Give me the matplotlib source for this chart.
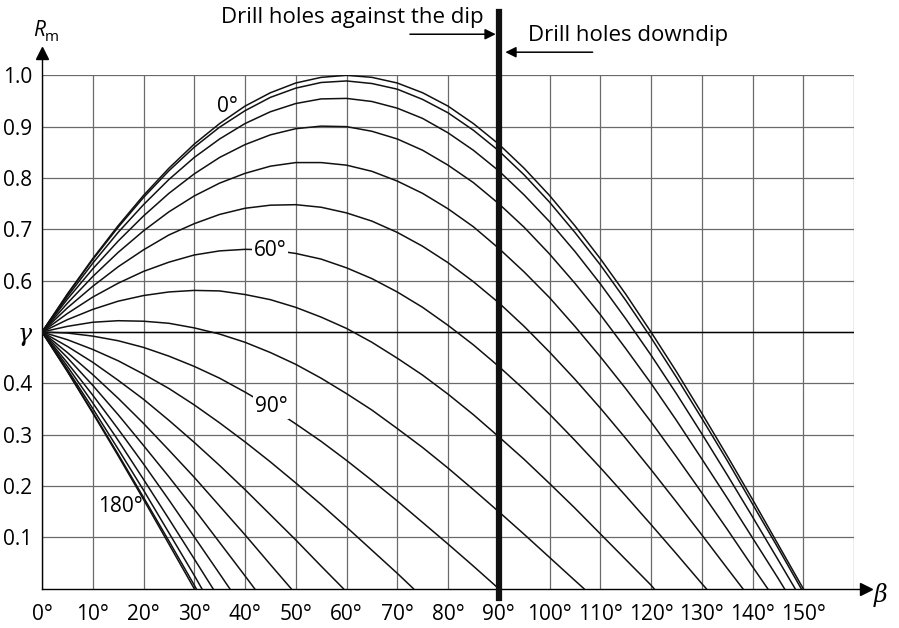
import matplotlib
matplotlib.use("Agg")
import matplotlib.pyplot as plt

# beta grid (degrees) the curve values were read at
beta_grid = list(range(0, 155, 5))

# Rm (one list per curve parameter, from beta = 0 in 5° steps)
rm_a0 = [0.500, 0.574, 0.643, 0.707, 0.766, 0.819, 0.866, 0.906, 0.940, 0.966, 0.985, 0.996, 1.000, 0.996, 0.985,
         0.966, 0.940, 0.906, 0.866, 0.819, 0.766, 0.707, 0.643, 0.574, 0.500, 0.423, 0.342, 0.259, 0.174, 0.087]
rm_a10 = [0.500, 0.573, 0.641, 0.704, 0.762, 0.814, 0.860, 0.899, 0.931, 0.957, 0.975, 0.986, 0.989, 0.984, 0.973,
          0.953, 0.927, 0.893, 0.853, 0.806, 0.753, 0.694, 0.631, 0.562, 0.489, 0.412, 0.332, 0.250, 0.165, 0.080]
rm_a20 = [0.500, 0.569, 0.634, 0.694, 0.748, 0.797, 0.840, 0.876, 0.906, 0.929, 0.945, 0.954, 0.955, 0.949, 0.936,
          0.916, 0.888, 0.854, 0.814, 0.767, 0.715, 0.657, 0.594, 0.526, 0.455, 0.380, 0.302, 0.222, 0.140, 0.057]
rm_a30 = [0.500, 0.564, 0.623, 0.677, 0.726, 0.770, 0.808, 0.840, 0.865, 0.884, 0.896, 0.901, 0.900, 0.891, 0.876,
          0.854, 0.825, 0.791, 0.750, 0.704, 0.652, 0.595, 0.534, 0.468, 0.400, 0.328, 0.253, 0.177, 0.099, 0.021]
rm_a40 = [0.500, 0.556, 0.608, 0.655, 0.697, 0.734, 0.765, 0.790, 0.809, 0.823, 0.830, 0.830, 0.825, 0.813, 0.794,
          0.770, 0.740, 0.705, 0.663, 0.617, 0.567, 0.511, 0.452, 0.390, 0.325, 0.257, 0.187, 0.116, 0.043]
rm_a50 = [0.500, 0.547, 0.589, 0.627, 0.660, 0.689, 0.711, 0.729, 0.741, 0.747, 0.748, 0.743, 0.732, 0.716, 0.694,
          0.667, 0.635, 0.598, 0.557, 0.511, 0.461, 0.408, 0.352, 0.293, 0.232, 0.169, 0.105, 0.040]
rm_a60 = [0.500, 0.536, 0.568, 0.595, 0.618, 0.636, 0.650, 0.658, 0.661, 0.660, 0.653, 0.642, 0.625, 0.604, 0.578,
          0.548, 0.513, 0.475, 0.433, 0.388, 0.340, 0.289, 0.236, 0.181, 0.125, 0.068, 0.010]
rm_a70 = [0.500, 0.524, 0.544, 0.560, 0.571, 0.578, 0.581, 0.580, 0.573, 0.563, 0.548, 0.529, 0.507, 0.480, 0.449,
          0.416, 0.379, 0.339, 0.296, 0.252, 0.205, 0.157, 0.107, 0.057, 0.007]
rm_a80 = [0.500, 0.511, 0.519, 0.522, 0.521, 0.517, 0.508, 0.496, 0.480, 0.460, 0.437, 0.410, 0.380, 0.348, 0.312,
          0.275, 0.235, 0.193, 0.150, 0.106, 0.061, 0.016]
rm_a90 = [0.500, 0.498, 0.492, 0.483, 0.470, 0.453, 0.433, 0.410, 0.383, 0.354, 0.321, 0.287, 0.250, 0.211, 0.171,
          0.129, 0.087, 0.044]
rm_a100 = [0.500, 0.485, 0.466, 0.444, 0.418, 0.390, 0.358, 0.323, 0.286, 0.247, 0.206, 0.164, 0.120, 0.075, 0.030]
rm_a110 = [0.500, 0.472, 0.441, 0.406, 0.369, 0.328, 0.285, 0.240, 0.193, 0.144, 0.095, 0.044]
rm_a120 = [0.500, 0.460, 0.417, 0.371, 0.322, 0.270, 0.217, 0.161, 0.105, 0.047]
rm_a130 = [0.500, 0.450, 0.396, 0.339, 0.279, 0.218, 0.155, 0.090, 0.025]
rm_a140 = [0.500, 0.440, 0.377, 0.311, 0.243, 0.173, 0.101, 0.029]
rm_a150 = [0.500, 0.433, 0.362, 0.289, 0.213, 0.136, 0.058]
rm_a160 = [0.500, 0.427, 0.351, 0.272, 0.192, 0.109, 0.026]
rm_a170 = [0.500, 0.424, 0.344, 0.262, 0.178, 0.093, 0.007]
rm_a180 = [0.500, 0.423, 0.342, 0.259, 0.174, 0.087]

# beta where each curve reaches Rm = 0
end_angles = [150.0, 149.6, 148.4, 146.3, 143.0, 138.1, 130.9, 120.6, 106.8, 90.0,
              73.2, 59.4, 49.1, 41.9, 37.0, 33.7, 31.5, 30.4, 30.0]

curves = [rm_a0, rm_a10, rm_a20, rm_a30, rm_a40, rm_a50, rm_a60, rm_a70, rm_a80, rm_a90,
          rm_a100, rm_a110, rm_a120, rm_a130, rm_a140, rm_a150, rm_a160, rm_a170, rm_a180]

x_ticks = list(range(0, 170, 10))
x_labels = [f"{t}°" for t in range(0, 160, 10)] + [""]
y_ticks = [0.1, 0.2, 0.3, 0.4, 0.5, 0.6, 0.7, 0.8, 0.9, 1.0]
y_labels = ["0.1", "0.2", "0.3", "0.4", "γ", "0.6", "0.7", "0.8", "0.9", "1.0"]

plt.rcParams['font.family'] = ['Open Sans', 'DejaVu Sans']

fig = plt.figure(figsize=(8.99, 6.28), dpi=100)
ax = fig.add_axes([42 / 899, 1 - 588.7 / 628, 812 / 899, 513.4 / 628])
ax.set_xlim(0, 160)
ax.set_ylim(0, 1)

grid_col = "#6a6a6a"
for s in ax.spines.values():
    s.set_visible(False)
ax.set_xticks(x_ticks)
ax.set_xticklabels(x_labels, fontsize=15)
ax.set_yticks(y_ticks)
ax.set_yticklabels(y_labels, fontsize=15)
ax.tick_params(length=0)
ax.tick_params(axis="x", pad=11)
ax.tick_params(axis="y", pad=7)
for lab in ax.get_yticklabels():
    if lab.get_text() == "γ":
        lab.set_fontfamily("DejaVu Serif")
        lab.set_fontstyle("italic")
        lab.set_fontsize(17)
ax.grid(True, color=grid_col, linewidth=0.9)
ax.set_axisbelow(True)
ax.axhline(0.5, color="black", linewidth=1.0, zorder=1.5)

# axes with arrow heads
ax.plot([0, 0], [0, 1.04], color="black", linewidth=1.0, clip_on=False)
ax.plot([0], [1.043], marker="^", color="black", markersize=8, clip_on=False)
ax.plot([0, 162], [0, 0], color="black", linewidth=1.0, clip_on=False)
ax.plot([162.3], [0], marker=">", color="black", markersize=8, clip_on=False)

for vals, end in zip(curves, end_angles):
    xs = beta_grid[:len(vals)] + [end]
    ys = vals + [0.0]
    ax.plot(xs, ys, color="#111111", linewidth=1.1, zorder=3)

# separator between the two drilling directions
ax.plot([90, 90], [-0.018, 1.123], color="#111111", linewidth=4.5, clip_on=False, zorder=4)

ax.annotate("", xy=(89.4, 1.080), xytext=(72.5, 1.080), annotation_clip=False,
            arrowprops=dict(arrowstyle="-|>", color="black", lw=1.1, mutation_scale=16,
                            shrinkA=0, shrinkB=0))
ax.annotate("", xy=(91.3, 1.045), xytext=(108.5, 1.045), annotation_clip=False,
            arrowprops=dict(arrowstyle="-|>", color="black", lw=1.1, mutation_scale=16,
                            shrinkA=0, shrinkB=0))
ax.text(61.1, 1.112, "Drill holes against the dip", fontsize=16, ha="center", va="center", clip_on=False)
ax.text(115.4, 1.077, "Drill holes downdip", fontsize=16, ha="center", va="center", clip_on=False)

# curve labels
ax.text(36.5, 0.94, "0°", fontsize=15, ha="center", va="center", zorder=5)
ax.text(44.9, 0.659, "60°", fontsize=15, ha="center", va="center", zorder=5,
        bbox=dict(facecolor="white", edgecolor="none", pad=1.0))
ax.text(45.1, 0.354, "90°", fontsize=15, ha="center", va="center", zorder=5,
        bbox=dict(facecolor="white", edgecolor="none", pad=1.0))
ax.text(15.4, 0.161, "180°", fontsize=15, ha="center", va="center", zorder=5)

# axis names
ax.text(-0.5, 1.088, "R", fontsize=15, fontstyle="italic", ha="center", va="center", clip_on=False)
ax.text(1.9, 1.073, "m", fontsize=11, ha="center", va="center", clip_on=False)
ax.text(165.2, -0.012, "β", fontsize=17, fontstyle="italic", family="DejaVu Serif",
        ha="center", va="center", clip_on=False)

fig.savefig("out.png", dpi=100)
